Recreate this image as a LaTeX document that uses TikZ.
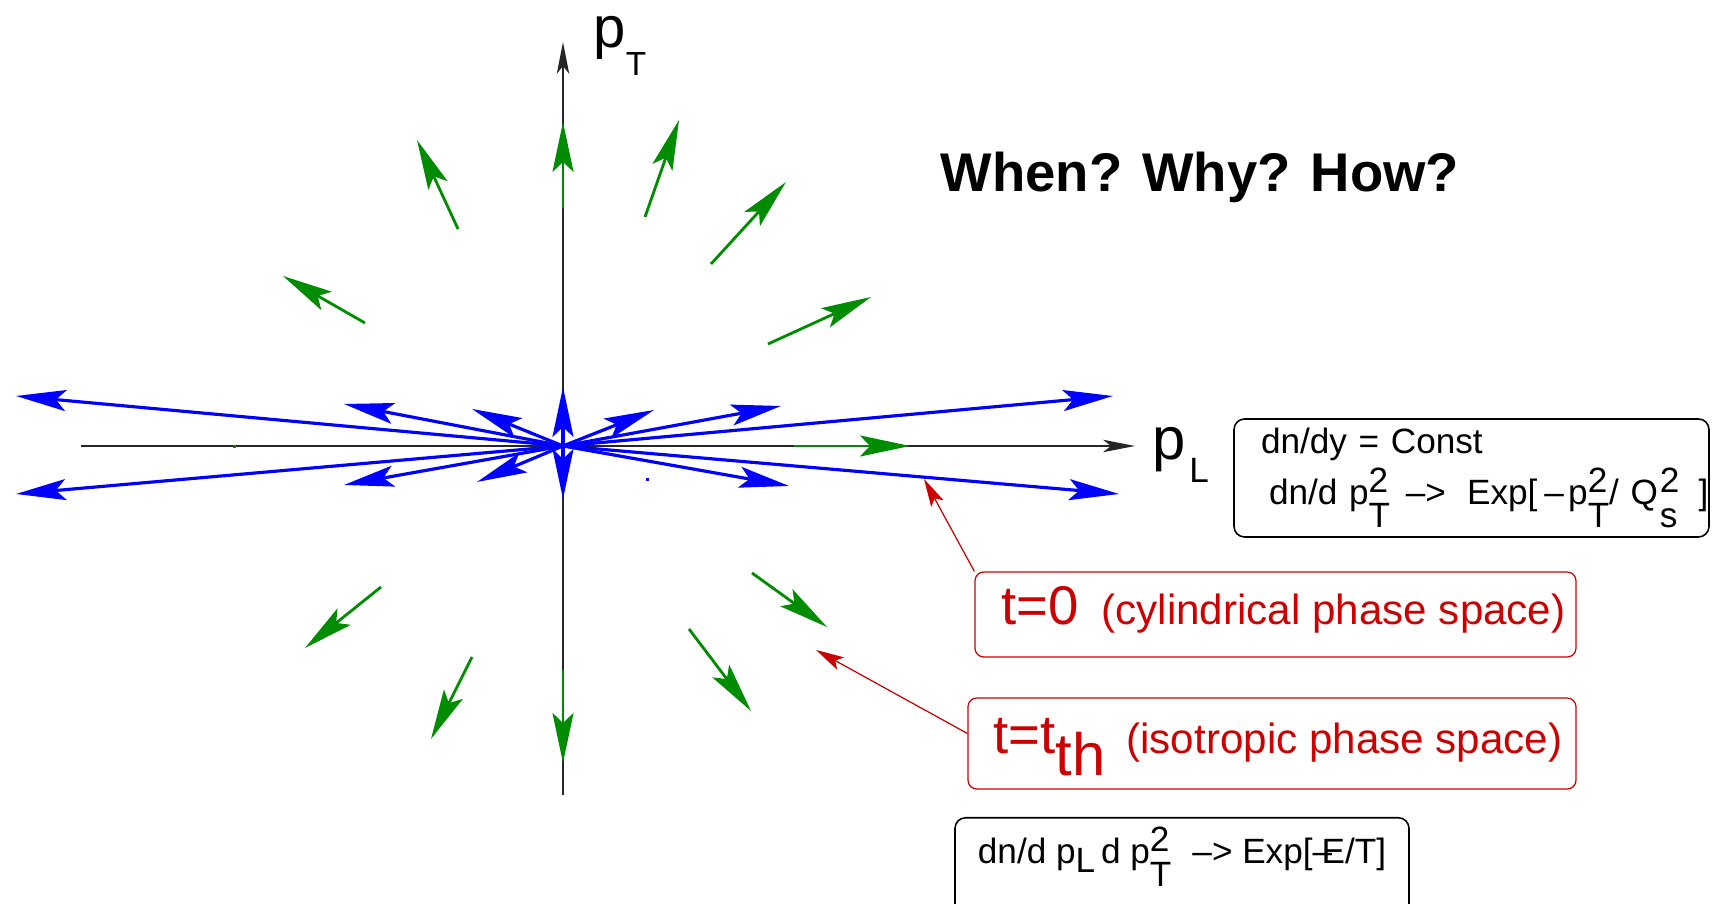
\documentclass[tikz,border=0pt]{standalone}
\usepackage{fontspec}
\setmainfont{Liberation Sans}
\usetikzlibrary{arrows.meta}
\definecolor{partblue}{HTML}{0000FF}
\definecolor{partgreen}{HTML}{008C00}
\definecolor{notered}{HTML}{CC0000}
\tikzset{
  axis/.style={-{Stealth[length=3.2mm, width=1.25mm, inset=0.8mm]}, black!85, line width=0.45pt},
  initial/.style={-{Stealth[length=5mm, width=2.1mm, inset=1mm]}, partblue, line width=0.9pt},
  final/.style={-{Stealth[length=5mm, width=2.1mm, inset=1mm]}, partgreen, line width=0.8pt},
  pointer/.style={-{Stealth[length=2.8mm, width=1.4mm, inset=0.6mm]}, notered, line width=0.35pt},
  note/.style={
    draw=notered,
    text=notered,
    rounded corners=2.5pt,
    line width=0.35pt,
    inner sep=0pt,
    text height=3.2mm,
    text depth=1.2mm,
  },
  formula/.style={
    draw,
    rounded corners=3pt,
    line width=0.45pt,
    align=left,
    inner sep=0pt,
    font=\fontsize{10}{12}\selectfont,
  },
}
% superscript over subscript, both set on the same spot
\newcommand{\supsub}[2]{{\fontsize{10}{10}\selectfont\ooalign{\raisebox{3.4pt}{#1}\cr\raisebox{-6.6pt}{#2}\cr}}}

\begin{document}
\begin{tikzpicture}[x=0.1mm, y=-0.1mm]
\useasboundingbox (0,0) rectangle (1715,904);

% Axes
\coordinate (O) at (563,446);
\coordinate (pLend) at (1135,446);
\coordinate (pTend) at (563,42);
\draw[axis] (81,446) -- (pLend);
\draw[axis] (563,795) -- (pTend);
\node[anchor=base west, inner sep=0pt] (pTlabel) at (593,48)
  {\fontsize{16.5}{17}\selectfont p\raisebox{-7.7pt}{\fontsize{9.5}{10}\selectfont T}};
\node[anchor=base west, inner sep=0pt] (pLlabel) at (1152,460)
  {\fontsize{17}{18}\selectfont p\kern1pt\raisebox{-6.3pt}{\fontsize{10}{11}\selectfont L}};

% Title
\node[font=\fontsize{15.5}{18}\selectfont\bfseries] (title) at (1200,177) {When? Why? How?};

% Initial momenta (t=0), all from the origin
\foreach \x/\y in {16/396, 16/494, 1113/396, 1119/494, 344/404, 344/485,
                   781/406, 789/486, 472/409, 477/482, 654/410, 563/387, 563/499}
  {\draw[initial] (O) -- (\x,\y);}
\fill[partblue] (645.5,478.5) rectangle (648.5,481.5);

% Thermalized momenta (t=t_th)
\foreach \xa/\ya/\xb/\yb in {458/229/417/140, 365/323/283/276, 563/208/563/122,
                             645/217/679/120, 711/264/786/182, 768/344/871/297,
                             381/587/305/648, 472/657/431/739, 563/670/563/763,
                             689/629/751/711, 752/573/827/627, 794/446/910/446}
  {\draw[final] (\xa,\ya) -- (\xb,\yb);}
\fill[partgreen] (232.5,445.5) rectangle (235.5,448.5);

% Formula boxes
\node[formula, text width=45mm, minimum width=47.5mm, minimum height=11.8mm] (boxConst) at (1471.5,478)
  {\hspace*{1.45mm}dn/dy = Const\\[1pt]
   \mbox{\hspace*{2.25mm}dn/d p\supsub{2}{T}\hspace{0.45em}-->\hspace{0.6em}Exp[\hspace{0.2em}--\hspace{0.12em}p\supsub{2}{T}/ Q\hspace{0.05em}\supsub{2}{s}\hspace{0.55em}]}};
\node[formula, minimum width=45.4mm, minimum height=10mm, text height=3.2mm, text depth=4mm, anchor=north] (boxTherm) at (1182,817)
  {dn/d p\raisebox{-2.5pt}{L}\,d p\supsub{2}{T}\hspace{0.6em}--> Exp[--\kern-0.3em E/T]};

% Time labels
\node[note, minimum width=60.1mm, minimum height=8.5mm] (boxCyl) at (1275.5,614.5)
  {\hspace{1.6mm}{\fontsize{15.5}{18}\selectfont t=0}\hspace{6.5pt}{\fontsize{12}{14}\selectfont (cylindrical phase space)}};
\node[note, minimum width=60.8mm, minimum height=9.1mm] (boxIso) at (1272,743.5)
  {\hspace{1.2mm}{\fontsize{15.5}{18}\selectfont t=t\raisebox{-6.2pt}{\fontsize{17}{18}\selectfont th}}\hspace{6pt}{\fontsize{12}{14}\selectfont (isotropic phase space)}};

% --- Pointers ----------------------------------------------------------
\coordinate (hitCyl) at (924,479);
\coordinate (hitIso) at (816,650);
\draw[pointer] (boxCyl.north west) -- (hitCyl);
\draw[pointer] ([yshift=1mm]boxIso.west) -- (hitIso);

\end{tikzpicture}
\end{document}
